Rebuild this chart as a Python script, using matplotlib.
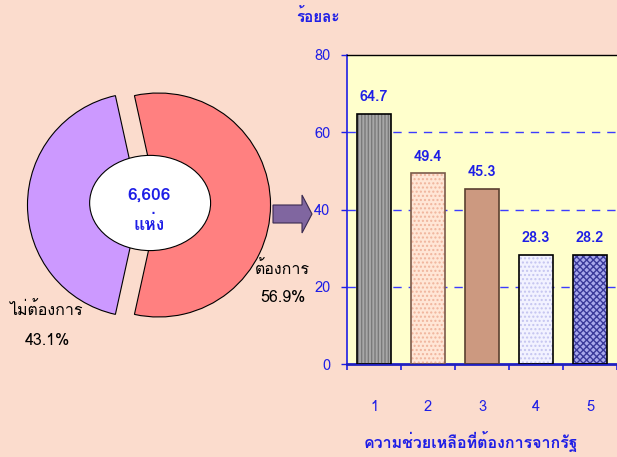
import matplotlib
matplotlib.use("Agg")
import matplotlib.pyplot as plt
from matplotlib import font_manager
from matplotlib.ft2font import FT2Font
from matplotlib.patches import Ellipse, Polygon

# ---------------- data ----------------
pie_labels = ["ต้องการ", "ไม่ต้องการ"]
pie_values = [56.9, 43.1]
pie_colors = ["#FF8080", "#CC99FF"]
total_text = "6,606"
unit_text = "แห่ง"

bar_categories = ["1", "2", "3", "4", "5"]
bar_values = [64.7, 49.4, 45.3, 28.3, 28.2]
bar_faces = ["#A8A8A8", "#FFE6D6", "#CC9980", "#F2F2FF", "#A8A8EC"]
bar_hatches = ["|||||", "....", "", "....", "xxxxx"]
bar_hatch_colors = ["#7A7A7A", "#F0B49C", "#CC9980", "#C4C4F0", "#3A3A9A"]
bar_edges = ["#000000", "#7A5A4A", "#5A4030", "#000000", "#000000"]
y_ticks = [0, 20, 40, 60, 80]
y_title = "ร้อยละ"
x_title = "ความช่วยเหลือที่ต้องการจากรัฐ"

# ---------------- fonts ----------------
def find_thai_font():
    seen = set()
    for f in font_manager.fontManager.ttflist:
        if f.name in seen:
            continue
        try:
            ft = FT2Font(f.fname)
            if ft.get_char_index(0x0E01) and ft.get_char_index(0x0E49):
                return f.name
        except Exception:
            pass
        seen.add(f.name)
    return None

thai = find_thai_font()
families = ([thai] if thai else []) + ["DejaVu Sans"]
plt.rcParams["font.family"] = families

BG = "#FBDCCD"
BLUE = "#1E1EE6"
W, H = 617, 457
fig = plt.figure(figsize=(W / 100, H / 100), dpi=100, facecolor=BG)

def fx(x):
    return x / W

def fy(y):
    return 1 - y / H

# ---------------- donut ----------------
R = 112.0
cx, cy = 149, 205
half = 130
pax = fig.add_axes([fx(cx - half), fy(cy + half), 2 * half / W, 2 * half / H])
pax.set_facecolor("none")
start = 180 + 360 * pie_values[1] / 100 / 2
pax.pie(pie_values, colors=pie_colors, startangle=start, counterclock=True,
        explode=[0.085, 0.085], radius=1.0,
        wedgeprops=dict(edgecolor="black", linewidth=0.8))
pax.set_xlim(-half / R, half / R)
pax.set_ylim(-half / R, half / R)
pax.set_aspect("equal")
pax.axis("off")
pax.add_patch(Ellipse((0.01, 0.018), 1.08, 0.85, facecolor="white",
                      edgecolor="black", linewidth=0.8, zorder=5))
pax.text(0, 0.09, total_text, ha="center", va="center", color=BLUE,
         fontsize=12.5, fontweight="bold", zorder=6)
pax.text(0, -0.17, unit_text, ha="center", va="center", color=BLUE,
         fontsize=12.5, fontweight="bold", zorder=6)

fig.text(fx(282), fy(270), pie_labels[0], ha="center", va="center", fontsize=11.5, color="black")
fig.text(fx(283), fy(298), f"{pie_values[0]}%", ha="center", va="center", fontsize=11.5, color="black")
fig.text(fx(46), fy(311), pie_labels[1], ha="center", va="center", fontsize=11.5, color="black")
fig.text(fx(47), fy(341), f"{pie_values[1]}%", ha="center", va="center", fontsize=11.5, color="black")

# arrow
arrow_pts = [(273, 205), (302, 205), (302, 195), (312, 214), (302, 233), (302, 223), (273, 223)]
fig.patches.append(Polygon([(fx(x), fy(y)) for x, y in arrow_pts], closed=True,
                           transform=fig.transFigure, facecolor="#8066A0",
                           edgecolor="#3A2A50", linewidth=0.8))

# ---------------- bars ----------------
left, right, top, bottom = 347, 617, 55, 364
bax = fig.add_axes([fx(left), fy(bottom), (right - left) / W, (bottom - top) / H])
bax.set_facecolor("#FFFFCC")
xs = list(range(1, len(bar_values) + 1))
bw = 0.63
bax.bar(xs, bar_values, width=bw, color=bar_faces, linewidth=0, zorder=2)
for x, v, h, hc in zip(xs, bar_values, bar_hatches, bar_hatch_colors):
    if h:
        bax.bar([x], [v], width=bw, color="none", edgecolor=hc, hatch=h,
                linewidth=0, zorder=3)
bax.bar(xs, bar_values, width=bw, color="none", edgecolor=bar_edges,
        linewidth=1.2, zorder=4)
for x, v in zip(xs, bar_values):
    bax.text(x, v + 2.5, f"{v}", ha="center", va="bottom", color=BLUE,
             fontsize=10.5, fontweight="bold", zorder=5)

bax.set_xlim(0.5, len(bar_values) + 0.5)
bax.set_ylim(0, 80)
bax.set_yticks(y_ticks)
bax.set_yticklabels([str(t) for t in y_ticks], color=BLUE, fontsize=10.5)
for g in y_ticks[1:-1]:
    bax.axhline(g, color="#3C3CFF", linewidth=1, linestyle=(0, (6, 5)), zorder=1)
bax.set_xticks(xs)
bax.set_xticklabels(bar_categories, color=BLUE, fontsize=10.5)
bax.set_xticks([i + 0.5 for i in range(0, len(bar_values) + 1)], minor=True)
bax.tick_params(axis="x", which="major", length=0, pad=26)
bax.tick_params(axis="x", which="minor", length=4, width=1.2, color=BLUE, direction="out")
bax.tick_params(axis="y", length=4, width=1, color=BLUE, direction="out", pad=8)
bax.spines["left"].set_color(BLUE)
bax.spines["left"].set_linewidth(1.2)
bax.spines["bottom"].set_color("#2020C0")
bax.spines["bottom"].set_linewidth(2)
bax.spines["top"].set_color("black")
bax.spines["top"].set_linewidth(1)
bax.spines["right"].set_visible(False)

fig.text(fx(318), fy(17), y_title, ha="center", va="center", color=BLUE,
         fontsize=11, fontweight="bold")
fig.text(fx(471), fy(441), x_title, ha="center", va="center", color=BLUE,
         fontsize=11.5, fontweight="bold")

fig.savefig("out.png", dpi=100, facecolor=BG)
